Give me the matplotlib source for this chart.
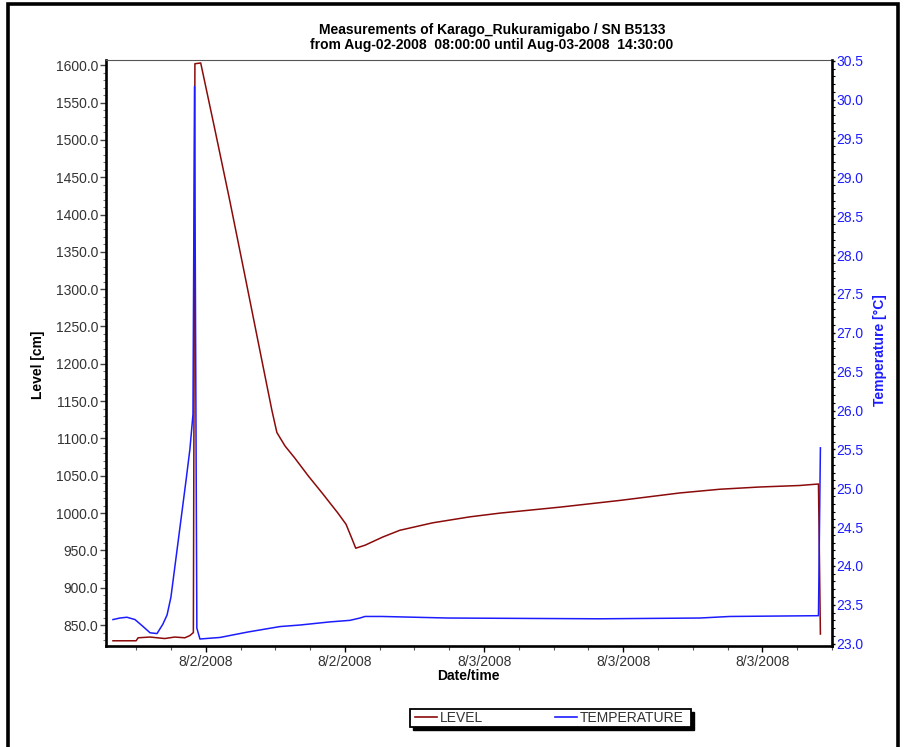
import matplotlib
matplotlib.use("Agg")
import matplotlib.pyplot as plt
import matplotlib.dates as mdates
from matplotlib.ticker import MultipleLocator, FixedLocator, FuncFormatter
from matplotlib.patches import Rectangle
from matplotlib.lines import Line2D
import pandas as pd

plt.rcParams['font.family'] = ['Liberation Sans', 'DejaVu Sans']

# ---- logger readings ----
level_times = [
    "2008-08-02 08:00", "2008-08-02 09:00", "2008-08-02 09:05", "2008-08-02 09:36",
    "2008-08-02 10:14", "2008-08-02 10:40", "2008-08-02 11:06", "2008-08-02 11:19",
    "2008-08-02 11:28", "2008-08-02 11:32", "2008-08-02 11:47", "2008-08-02 12:24",
    "2008-08-02 13:02", "2008-08-02 13:41", "2008-08-02 14:20", "2008-08-02 14:51",
    "2008-08-02 15:04", "2008-08-02 15:25", "2008-08-02 15:50", "2008-08-02 16:25",
    "2008-08-02 17:01", "2008-08-02 17:42", "2008-08-02 18:03", "2008-08-02 18:18",
    "2008-08-02 18:28", "2008-08-02 18:52", "2008-08-02 19:38", "2008-08-02 20:22",
    "2008-08-02 21:47", "2008-08-02 23:23", "2008-08-03 00:41", "2008-08-03 03:16",
    "2008-08-03 05:51", "2008-08-03 08:26", "2008-08-03 10:10", "2008-08-03 11:53",
    "2008-08-03 13:36", "2008-08-03 14:25", "2008-08-03 14:30",
]
level_cm = [
    829, 829, 833, 834,
    832, 834, 833, 836,
    840, 1602, 1603, 1513,
    1419, 1319, 1218, 1138,
    1108, 1090, 1074, 1050,
    1027, 1000, 985, 966,
    953, 957, 968, 977,
    987, 995, 1000, 1008,
    1017, 1027, 1032, 1035,
    1037, 1039, 838,
]

temp_times = [
    "2008-08-02 08:00", "2008-08-02 08:18", "2008-08-02 08:36", "2008-08-02 08:57",
    "2008-08-02 09:18", "2008-08-02 09:36", "2008-08-02 09:54", "2008-08-02 10:09",
    "2008-08-02 10:20", "2008-08-02 10:30", "2008-08-02 10:43", "2008-08-02 10:56",
    "2008-08-02 11:09", "2008-08-02 11:19", "2008-08-02 11:27", "2008-08-02 11:31",
    "2008-08-02 11:37", "2008-08-02 11:45", "2008-08-02 12:37", "2008-08-02 13:49",
    "2008-08-02 15:12", "2008-08-02 16:04", "2008-08-02 17:21", "2008-08-02 18:13",
    "2008-08-02 18:39", "2008-08-02 18:52", "2008-08-02 19:36", "2008-08-02 22:26",
    "2008-08-03 04:59", "2008-08-03 09:18", "2008-08-03 10:36", "2008-08-03 14:25",
    "2008-08-03 14:30",
]
temp_c = [
    23.31, 23.33, 23.34, 23.31,
    23.22, 23.14, 23.13, 23.25,
    23.37, 23.60, 24.10, 24.60,
    25.10, 25.50, 25.95, 30.17,
    23.20, 23.06, 23.08, 23.15,
    23.22, 23.24, 23.28, 23.30,
    23.33, 23.35, 23.35, 23.33,
    23.32, 23.33, 23.35, 23.36,
    25.52,
]

x_tick_times = ["2008-08-02 12:00", "2008-08-02 18:00", "2008-08-03 00:00",
                "2008-08-03 06:00", "2008-08-03 12:00"]

LEVEL_COLOR = "#8b0a0a"
TEMP_COLOR = "#1c1cff"
TEXT_GRAY = "#333333"

W, H = 907, 747
fig = plt.figure(figsize=(W / 100, H / 100), dpi=100)


def fx(px):
    return px / W


def fy(py):
    return 1 - py / H


ax = fig.add_axes([fx(106), fy(646), fx(832) - fx(106), fy(60) - fy(646)])
ax2 = ax.twinx()

lt = pd.to_datetime(level_times)
tt = pd.to_datetime(temp_times)
ax.plot(lt, level_cm, color=LEVEL_COLOR, lw=1.1, label="LEVEL")
ax2.plot(tt, temp_c, color=TEMP_COLOR, lw=1.1, label="TEMPERATURE")

# axis ranges
ax.set_xlim(pd.Timestamp("2008-08-02 07:42"), pd.Timestamp("2008-08-03 15:00"))
ax.set_ylim(822, 1607)
ax2.set_ylim(22.97, 30.51)

# x ticks: every 6 h with minor every 90 min
major_x = mdates.date2num(pd.to_datetime(x_tick_times))
minor_x = mdates.date2num(pd.date_range("2008-08-02 09:00", "2008-08-03 15:00", freq="90min"))
ax.xaxis.set_major_locator(FixedLocator(major_x))
ax.xaxis.set_minor_locator(FixedLocator(minor_x))


def date_fmt(v, pos=None):
    d = mdates.num2date(v)
    return f"{d.month}/{d.day}/{d.year}"


ax.xaxis.set_major_formatter(FuncFormatter(date_fmt))

ax.yaxis.set_major_locator(MultipleLocator(50))
ax.yaxis.set_minor_locator(MultipleLocator(10))
ax.yaxis.set_major_formatter(FuncFormatter(lambda v, p: f"{v:.1f}"))
ax2.yaxis.set_major_locator(MultipleLocator(0.5))
ax2.yaxis.set_minor_locator(MultipleLocator(0.1))
ax2.yaxis.set_major_formatter(FuncFormatter(lambda v, p: f"{v:.1f}"))

ax.tick_params(axis="x", which="major", direction="out", length=4, width=1.0,
               pad=2.5, labelsize=10, labelcolor=TEXT_GRAY, color="black")
ax.tick_params(axis="x", which="minor", direction="out", length=3, width=0.8, color="#555555")
ax.tick_params(axis="y", which="major", direction="out", length=4, width=1.0,
               pad=1.5, labelsize=10, labelcolor=TEXT_GRAY, color="#444444")
ax.tick_params(axis="y", which="minor", direction="out", length=2.5, width=0.8, color="#777777")
ax2.tick_params(axis="y", which="major", direction="out", length=2.5, width=1.0,
                pad=0.5, labelsize=10, labelcolor=TEMP_COLOR, color="black")
ax2.tick_params(axis="y", which="minor", direction="out", length=2, width=0.8, color="black")

# frame
for a in (ax, ax2):
    for s in a.spines.values():
        s.set_visible(False)
for name in ("left", "bottom"):
    ax.spines[name].set_visible(True)
    ax.spines[name].set_linewidth(1.9)
    ax.spines[name].set_color("black")
ax.spines["top"].set_visible(True)
ax.spines["top"].set_linewidth(0.8)
ax.spines["top"].set_color("#555555")
ax2.spines["right"].set_visible(True)
ax2.spines["right"].set_linewidth(1.9)
ax2.spines["right"].set_color("black")

# axis titles
ax.set_ylabel("Level [cm]", fontsize=10, fontweight="bold", color="black")
ax.yaxis.set_label_coords(-0.084, 0.48)
ax2.set_ylabel("Temperature [\u00b0C]", fontsize=10, fontweight="bold", color=TEMP_COLOR)
ax2.yaxis.set_label_coords(1.056, 0.505)
ax.set_xlabel("Date/time", fontsize=10, fontweight="bold", color="black")
ax.xaxis.set_label_coords(0.4986, -0.040)

# chart title
fig.text(fx(492), fy(30), "Measurements of Karago_Rukuramigabo / SN B5133",
         ha="center", va="center", fontsize=10, fontweight="bold")
fig.text(fx(492), fy(45), "from Aug-02-2008  08:00:00 until Aug-03-2008  14:30:00",
         ha="center", va="center", fontsize=10, fontweight="bold")

# legend below the plot: shadowed box with the two entries spread across it
box_l, box_t, box_r, box_b = 410, 709, 691, 727
fig.add_artist(Rectangle((fx(box_l + 3), fy(box_b + 3)), fx(box_r) - fx(box_l),
                         fy(box_t) - fy(box_b), transform=fig.transFigure,
                         facecolor="black", edgecolor="black", linewidth=1.0, zorder=1))
fig.add_artist(Rectangle((fx(box_l), fy(box_b)), fx(box_r) - fx(box_l),
                         fy(box_t) - fy(box_b), transform=fig.transFigure,
                         facecolor="white", edgecolor="black", linewidth=1.3, zorder=2))
handles = [Line2D([], [], color=LEVEL_COLOR, lw=1.2), Line2D([], [], color=TEMP_COLOR, lw=1.2)]
leg = fig.legend(handles, ["LEVEL", "TEMPERATURE"], loc="center left",
                 bbox_to_anchor=(fx(415), fy(718), fx(684) - fx(415), 0.0),
                 mode="expand", ncol=2, borderpad=0, handlelength=1.6,
                 handletextpad=0.2, borderaxespad=0, frameon=False, fontsize=10)
leg.set_zorder(5)
for t in leg.get_texts():
    t.set_color(TEXT_GRAY)

# page border
fig.add_artist(Rectangle((fx(8), fy(760)), fx(898) - fx(8), fy(4) - fy(760),
                         transform=fig.transFigure, fill=False, edgecolor="black",
                         linewidth=2.6, clip_on=False))

fig.savefig("out.png", dpi=100, facecolor="white")
